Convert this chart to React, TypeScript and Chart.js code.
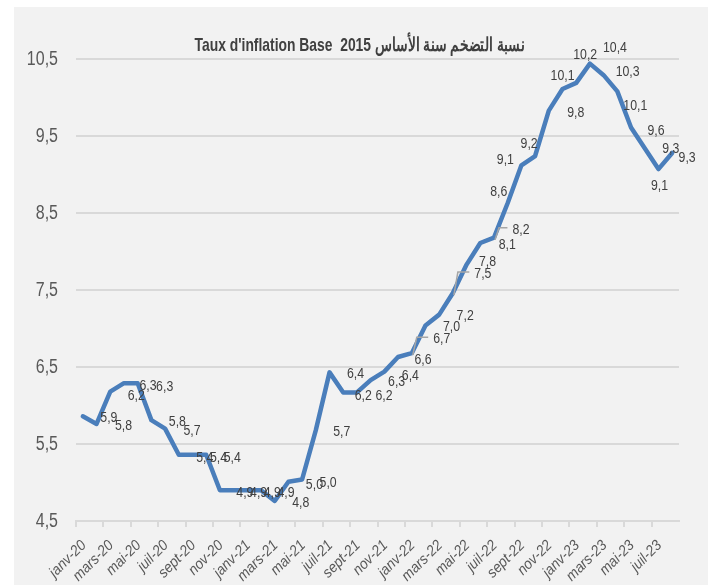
import React, { useEffect, useRef } from "react";
import { Chart, registerables } from "chart.js";

Chart.register(...registerables);

const months = ["janv", "févr", "mars", "avr", "mai", "juin", "juil", "août", "sept", "oct", "nov", "déc"];
const years = ["20", "21", "22", "23"];
const categories: string[] = [];
for (const y of years) for (const m of months) categories.push(`${m}-${y}`);
const labels = categories.slice(0, 44); // janv-20 .. août-23

const inflation = [
  5.86, 5.76, 6.18, 6.29, 6.29, 5.81, 5.70, 5.36, 5.36, 5.36, 4.90, 4.90,
  4.90, 4.90, 4.76, 5.01, 5.04, 5.68, 6.43, 6.17, 6.17, 6.33, 6.44, 6.63,
  6.68, 7.04, 7.18, 7.46, 7.83, 8.11, 8.18, 8.63, 9.12, 9.24, 9.83, 10.11,
  10.19, 10.44, 10.29, 10.08, 9.61, 9.34, 9.07, 9.28,
];

const yTicks = [4.5, 5.5, 6.5, 7.5, 8.5, 9.5, 10.5];

const titleText = "Taux d'inflation Base  2015 نسبة التضخم سنة الأساس";

// data label placement (offset of label centre from point), in px
const labelDx = [
  26, 27, 26, 24, 27, 26, 27, 26, 26, 26, 25, 25,
  25, 25, 26, 26, 26, 26, 26, 20, 27, 26, 26, 25,
  30, 26, 26, 30, 21, 27, 27, -9, -16, -6, 27, 0,
  9, 25, 24, 18, 25, 26, 1, 15,
];
const labelDy = [
  2, 2, 4, 3, 4, 2, 2, 3, 3, 3, 3, 3,
  3, 3, 2, 3, 3, 2, 1, 3, 3, 2, 4, 3,
  -14, 1, 1, -19, -3, 2, -8, -11, -5, -12, 2, -13,
  -28, -16, -3, 15, 3, 1, 17, 5,
];
const leaderIdx = [24, 27, 30];

const FONT = '"Liberation Sans", Arial, sans-serif';
const fmt = (v: number) => v.toFixed(1).replace(".", ",");

function narrowText(ctx: any, text: string, x: number, y: number, sx: number, rot = 0) {
  ctx.save();
  ctx.translate(x, y);
  if (rot) ctx.rotate(rot);
  ctx.scale(sx, 1);
  ctx.fillText(text, 0, 0);
  ctx.restore();
}

const decorPlugin = {
  id: "decor",
  afterDraw(chart: any) {
    const ctx = chart.ctx;
    const area = chart.chartArea;
    const xs = chart.scales.x;
    const ys = chart.scales.y;
    const meta = chart.getDatasetMeta(0);
    ctx.save();

    // y tick labels
    ctx.font = `20px ${FONT}`;
    ctx.fillStyle = "#595959";
    ctx.textAlign = "right";
    ctx.textBaseline = "middle";
    yTicks.forEach((v) => narrowText(ctx, fmt(v), area.left - 18, ys.getPixelForValue(v), 0.8));

    // x tick labels (every second month)
    ctx.font = `italic 15px ${FONT}`;
    ctx.textAlign = "right";
    ctx.textBaseline = "middle";
    labels.forEach((l, i) => {
      if (i % 2 !== 0) return;
      narrowText(ctx, l, xs.getPixelForValue(i) + 1, area.bottom + 22, 0.92, -Math.PI / 4);
    });

    // data labels
    ctx.font = `15px ${FONT}`;
    ctx.textAlign = "center";
    ctx.textBaseline = "middle";
    meta.data.forEach((pt: any, i: number) => {
      const lx = pt.x + labelDx[i];
      const ly = pt.y + labelDy[i];
      const txt = fmt(inflation[i]);
      if (leaderIdx.includes(i)) {
        const w = ctx.measureText(txt).width * 0.82;
        ctx.strokeStyle = "#a6a6a6";
        ctx.lineWidth = 1.5;
        ctx.beginPath();
        ctx.moveTo(pt.x + 1, pt.y + 2);
        ctx.lineTo(pt.x + 5, ly - 2);
        ctx.lineTo(lx - w / 2 - 5, ly - 2);
        ctx.stroke();
      }
      ctx.fillStyle = "#404040";
      narrowText(ctx, txt, lx, ly, 0.82);
    });

    // title
    ctx.font = `bold 19px ${FONT}`;
    ctx.fillStyle = "#404040";
    ctx.textAlign = "center";
    ctx.textBaseline = "alphabetic";
    narrowText(ctx, titleText, (area.left + area.right) / 2 - 18, area.top - 8, 0.73);
    ctx.restore();
  },
};

export default function App() {
  const ref = useRef<HTMLCanvasElement | null>(null);
  useEffect(() => {
    document.body.style.margin = "0";
    const canvas = ref.current!;
    const chart = new Chart(canvas, {
      type: "line",
      data: {
        labels,
        datasets: [
          {
            data: inflation,
            borderColor: "#4a7ebb",
            borderWidth: 4.5,
            pointRadius: 0,
            borderJoinStyle: "round",
            borderCapStyle: "round",
            tension: 0,
          },
        ],
      },
      options: {
        responsive: false,
        animation: false,
        layout: { padding: { top: 52, right: 29, left: 0, bottom: 0 } },
        plugins: { legend: { display: false }, title: { display: false }, tooltip: { enabled: false } },
        scales: {
          x: {
            type: "category",
            offset: true,
            afterFit(scale: any) {
              scale.height = 64;
            },
            grid: {
              offset: true,
              drawOnChartArea: false,
              drawTicks: true,
              tickLength: 6,
              lineWidth: 2,
              color: (c: any) => (c.index % 2 === 0 ? "#d9d9d9" : "rgba(0,0,0,0)"),
            },
            border: { display: true, color: "#d9d9d9", width: 2 },
            ticks: { display: false, autoSkip: false },
          },
          y: {
            min: 4.5,
            max: 10.5,
            afterFit(scale: any) {
              scale.width = 62;
            },
            afterBuildTicks(scale: any) {
              scale.ticks = yTicks.map((v) => ({ value: v }));
            },
            grid: { color: "#d9d9d9", lineWidth: 2, drawTicks: false },
            border: { display: false },
            ticks: { display: false },
          },
        },
      },
      plugins: [decorPlugin],
    });
    return () => chart.destroy();
  }, []);
  return (
    <div style={{ paddingLeft: 14, paddingTop: 7 }}>
      <canvas ref={ref} width={694} height={578} style={{ display: "block", background: "#f2f2f2" }} />
    </div>
  );
}
